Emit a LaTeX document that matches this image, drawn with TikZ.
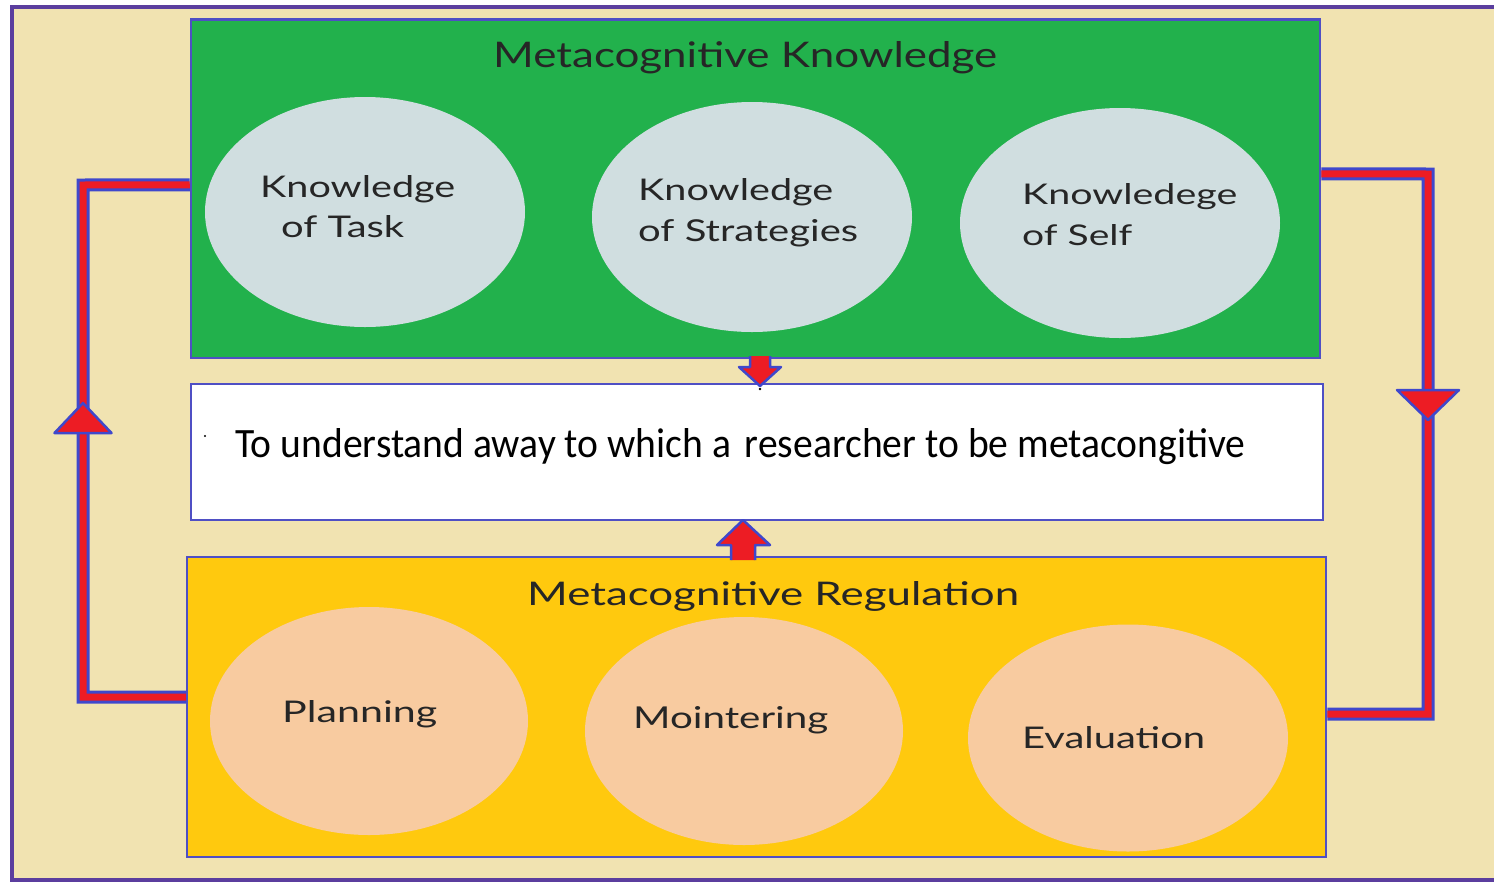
\documentclass[tikz,border=0pt]{standalone}
\usepackage{fontspec}
\setmainfont{Lato}
\newfontfamily\bodyfont{Carlito}
\usetikzlibrary{calc,shapes.geometric}

\definecolor{paper}{HTML}{F1E3B1}
\definecolor{frame}{HTML}{5B3E9E}
\definecolor{edge}{HTML}{4F4FC4}
\definecolor{knowgreen}{HTML}{22B14C}
\definecolor{reggold}{HTML}{FFC90E}
\definecolor{knowoval}{HTML}{D0DEE0}
\definecolor{regoval}{HTML}{F8CBA0}
\definecolor{flowred}{HTML}{ED1C24}
\definecolor{flowblue}{HTML}{3F48CC}
\definecolor{ink}{HTML}{262626}

% stretch a line of text to a given width and height (in pt)
\newcommand{\fitline}[3]{\resizebox{#1pt}{#2pt}{#3}}

\tikzset{
  panel/.style={draw=edge, line width=2.5pt, rectangle, inner sep=0pt},
  oval/.style={ellipse, inner sep=0pt, minimum width=320pt, minimum height=230pt},
  lbl/.style={anchor=base west, inner sep=0pt, text=ink},
  loopline/.style={draw=flowblue, line width=3pt, double=flowred, double distance=7pt, line join=miter},
  flowhead/.style={fill=flowred, draw=flowblue, line width=2.5pt, line join=round},
}

\begin{document}
\begin{tikzpicture}[x=1pt,y=-1pt]
\useasboundingbox (0,0) rectangle (1494,884);
\fill[white] (0,0) rectangle (1494,884);

% page and its frame
\fill[paper] (10,5) rectangle (1500,882);
\draw[frame, line width=4pt] (1500,6.5) -- (11.5,6.5) -- (11.5,880) -- (1500,880);

% the three panels
\node[panel, fill=knowgreen, minimum width=1129pt, minimum height=338.5pt] (know) at (755.5,188.75) {};
\node[panel, fill=white, minimum width=1132pt, minimum height=136pt] (goal) at (757,452) {};
\node[panel, fill=reggold, minimum width=1139pt, minimum height=300pt] (reg) at (756.5,707) {};

% knowledge ovals
\node[oval, fill=knowoval] (task) at (365,212) {};
\node[oval, fill=knowoval] (strat) at (752,217) {};
\node[oval, fill=knowoval] (self) at (1120,223) {};

% regulation ovals
\node[oval, fill=regoval, minimum width=318pt, minimum height=228pt] (plan) at (369,721) {};
\node[oval, fill=regoval, minimum width=318pt, minimum height=228pt] (mon) at (744,731) {};
\node[oval, fill=regoval, minimum width=320pt, minimum height=227pt] (eval) at (1128,738) {};

% feedback loops
\coordinate (lt) at (83,185);
\coordinate (lb) at (83,697);
\coordinate (rt) at (1428,174);
\coordinate (rb) at (1428,714);
\draw[loopline] ($(know.west)+(0,-4)$) -- (lt) -- (lb) -- ($(reg.west)+(0,-10)$);
\draw[loopline] ($(know.east)+(0,-15)$) -- (rt) -- (rb) -- ($(reg.east)+(0,7)$);

% loop arrowheads
\coordinate (lhead) at (83,403);
\coordinate (rhead) at (1428,420);
\filldraw[flowhead] (lhead) -- ++(28.5,30) -- ++(-57,0) -- cycle;
\filldraw[flowhead] (rhead) -- ++(31,-30) -- ++(-62,0) -- cycle;

% block arrows into the middle panel
\coordinate (down) at (760,356);
\filldraw[flowhead] (down) ++(-10,0) -- ++(0,11) -- ++(-11,0) -- (760,386) -- (781,367) -- ++(-11,0) -- ++(0,-11);
\coordinate (up) at (743,560);
\filldraw[flowhead] (up) ++(-12,0) -- ++(0,-15) -- ++(-14,0) -- (743,520) -- (770,545) -- ++(-15,0) -- ++(0,15);
\fill[black] (760,389) circle (1.3);

% titles
\node[lbl] (ktitle) at (493,67) {\fitline{504}{26}{Metacognitive Knowledge}};
\node[lbl] (rtitle) at (527,605) {\fitline{492}{24}{Metacognitive Regulation}};

% oval labels
\node[lbl] (task1) at (260,197) {\fitline{195}{22}{Knowledge}};
\node[lbl] (task2) at (281,237) {\fitline{123}{22}{of Task}};
\node[lbl] (strat1) at (638,200) {\fitline{195}{22}{Knowledge}};
\node[lbl] (strat2) at (638,241) {\fitline{220}{22}{of Strategies}};
\node[lbl] (self1) at (1022,204) {\fitline{215}{21}{Knowledege}};
\node[lbl] (self2) at (1022,245) {\fitline{110}{21}{of Self}};
\node[lbl] (plan1) at (282,722) {\fitline{155}{22}{Planning}};
\node[lbl] (mon1) at (633,728) {\fitline{195}{22}{Mointering}};
\node[lbl] (eval1) at (1022,748) {\fitline{183}{22}{Evaluation}};

% statement in the middle panel
\fill[black] (205,436) circle (1.2);
\node[lbl, text=black] (goaltext) at (235,457) {\fitline{1010}{29}{\bodyfont To understand away to which a\hspace{0.12em} researcher to be metacongitive}};
\end{tikzpicture}
\end{document}
